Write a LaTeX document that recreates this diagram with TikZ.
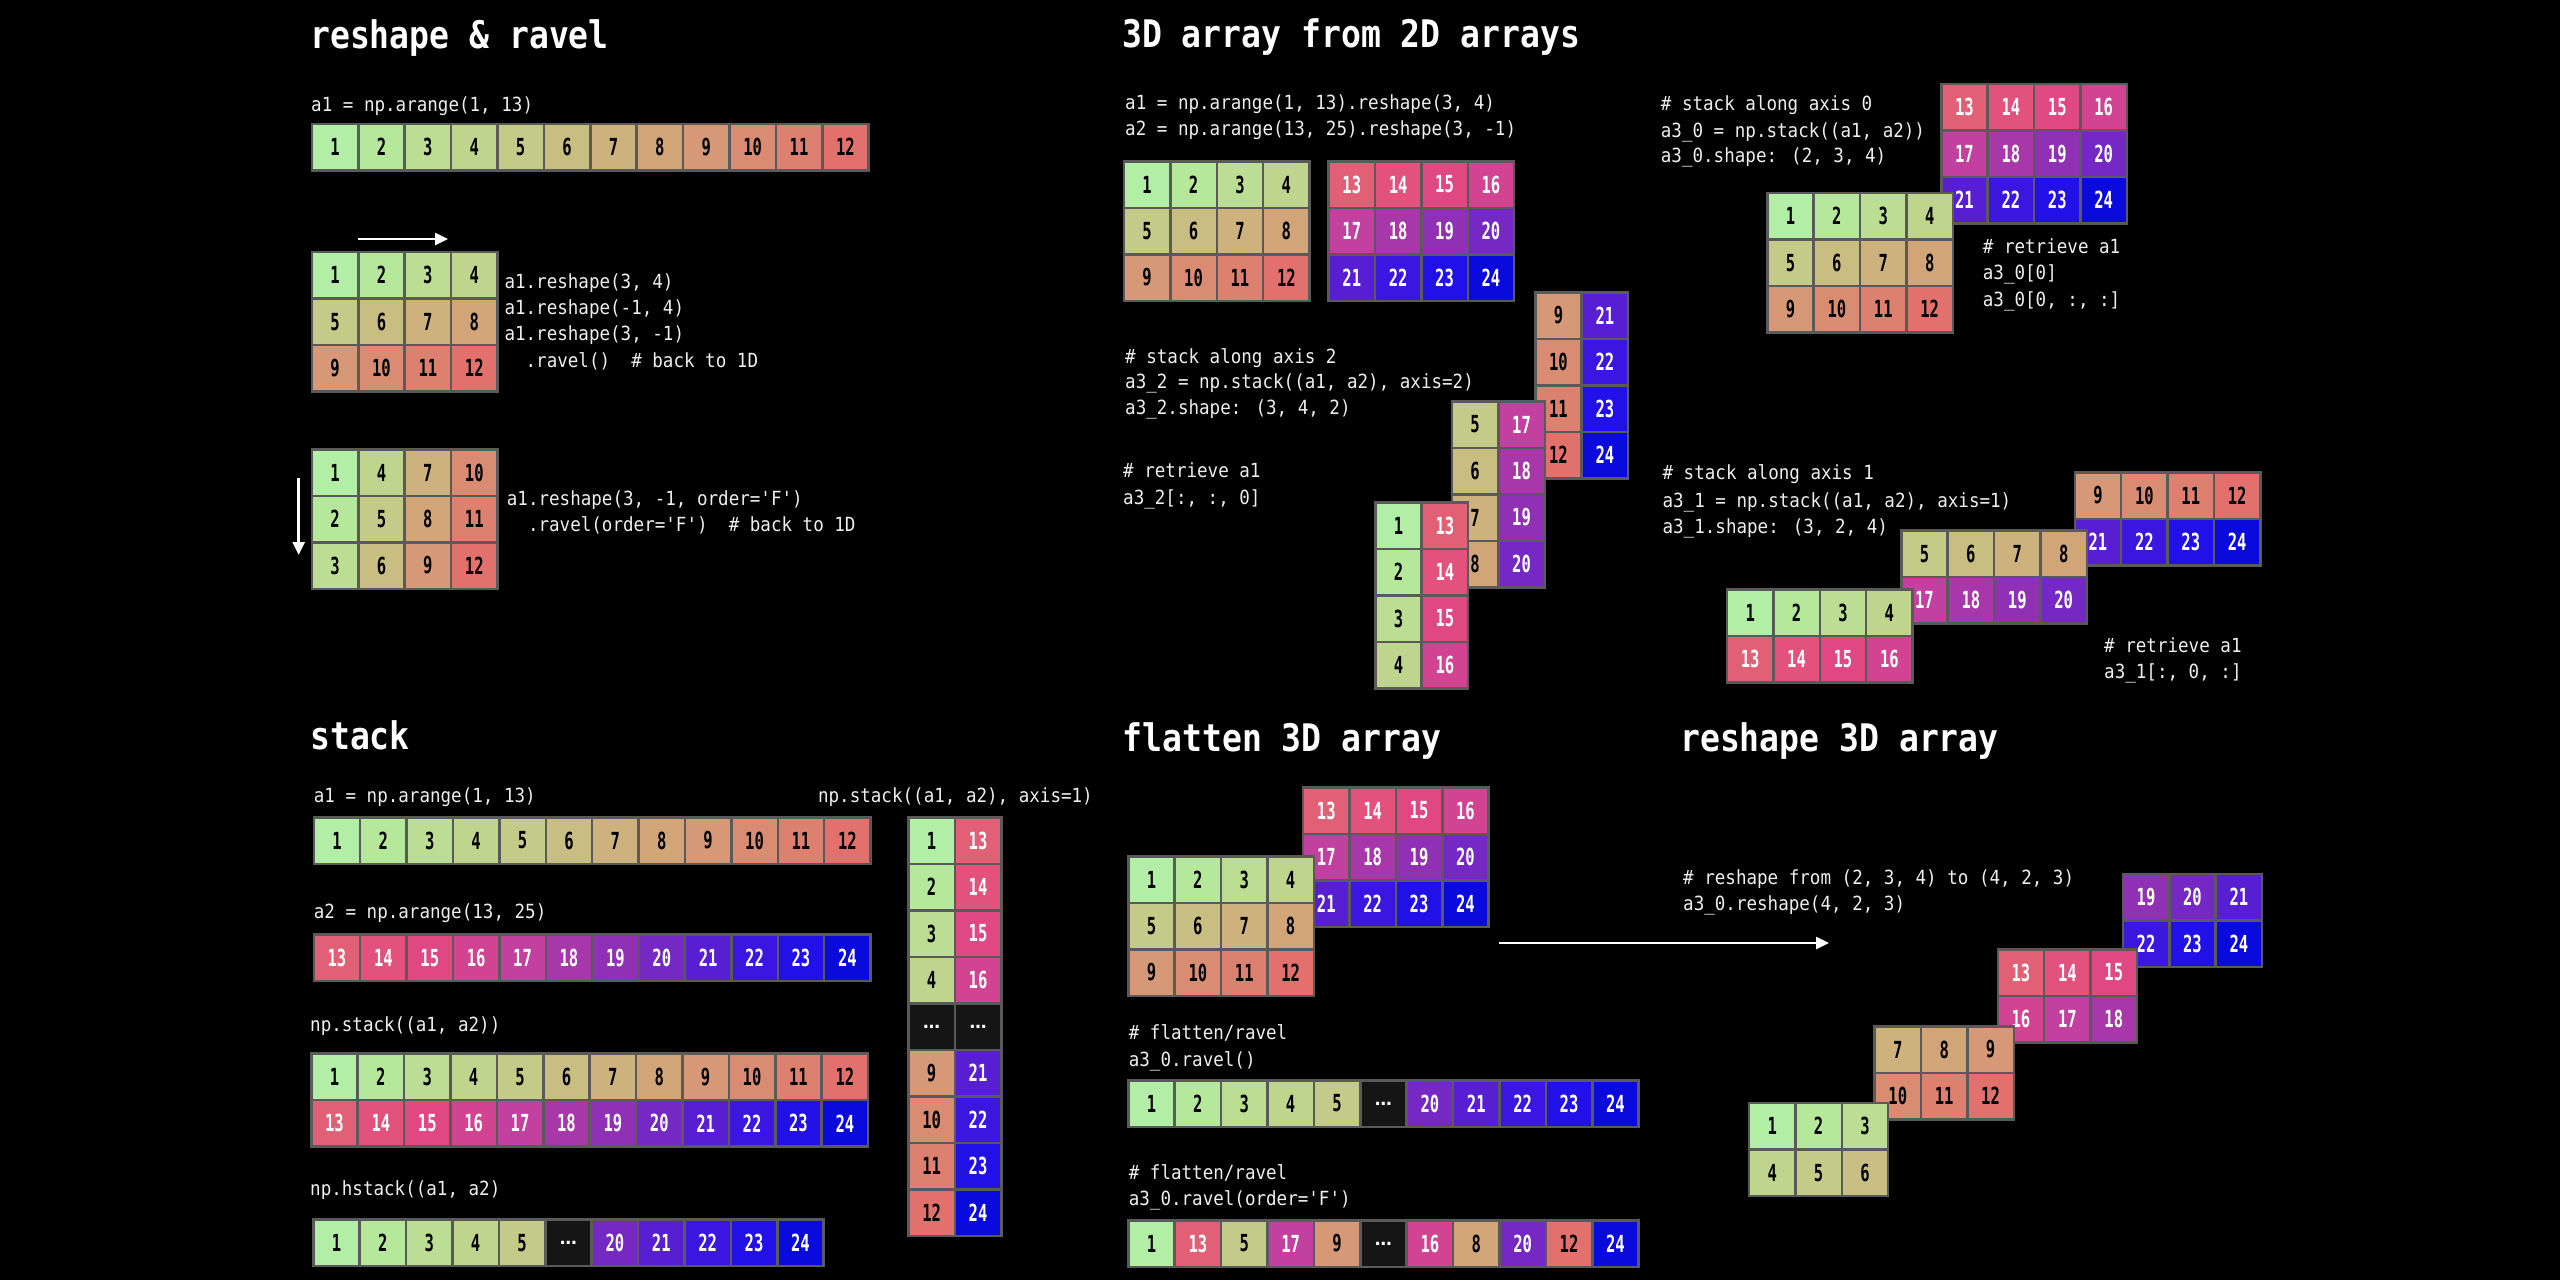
\documentclass[tikz,border=0pt]{standalone}
\usepackage{fontspec}
\usetikzlibrary{arrows.meta}
\newfontfamily\codefam[FakeStretch=0.9]{DejaVu Sans Mono}
\newfontfamily\titlefam[FakeStretch=0.87]{DejaVu Sans Mono}
\newfontfamily\numfam[FakeStretch=0.66]{DejaVu Sans Mono}
\newfontfamily\dotsfam{DejaVu Sans}
\newcommand\codefont{\codefam\fontsize{19.5}{26}\selectfont}
\newcommand\titlefont{\titlefam\bfseries\fontsize{38}{44}\selectfont}
\newcommand\numfont{\numfam\bfseries\fontsize{23.5}{26}\selectfont}
\definecolor{c0}{HTML}{151515}
\definecolor{c1}{HTML}{B2EEA5}
\definecolor{c2}{HTML}{B6E89C}
\definecolor{c3}{HTML}{BCDE94}
\definecolor{c4}{HTML}{BFD48C}
\definecolor{c5}{HTML}{C4CA87}
\definecolor{c6}{HTML}{C8BE82}
\definecolor{c7}{HTML}{CDB27D}
\definecolor{c8}{HTML}{D2A578}
\definecolor{c9}{HTML}{D69876}
\definecolor{c10}{HTML}{DA8C73}
\definecolor{c11}{HTML}{DE8070}
\definecolor{c12}{HTML}{E2706C}
\definecolor{c13}{HTML}{E26076}
\definecolor{c14}{HTML}{E2527C}
\definecolor{c15}{HTML}{E04882}
\definecolor{c16}{HTML}{D24491}
\definecolor{c17}{HTML}{C240A0}
\definecolor{c18}{HTML}{A838AA}
\definecolor{c19}{HTML}{9030B4}
\definecolor{c20}{HTML}{7628C4}
\definecolor{c21}{HTML}{581ED2}
\definecolor{c22}{HTML}{3A16E0}
\definecolor{c23}{HTML}{2210E8}
\definecolor{c24}{HTML}{0A0ADC}
\definecolor{cellborder}{HTML}{5A5A5A}
\definecolor{codecol}{HTML}{EEEEEE}
\def\cellw{46.4}
\def\cellh{46.5}
\newcommand\celltxt[1]{\ifnum#1=0 \raisebox{-4pt}{\dotsfam\bfseries\fontsize{17}{19}\selectfont …}\else#1\fi}
\tikzset{
  cell/.style={draw=cellborder, line width=2.5pt, minimum width=\cellw pt,
    minimum height=\cellh pt, inner sep=0pt, anchor=north west, font=\numfont},
  cellc/.code={\pgfkeysalso{fill=c#1}%
    \ifnum#1>12\relax\pgfkeysalso{text=white}\else
    \ifnum#1=0\relax\pgfkeysalso{text=white}\else\pgfkeysalso{text=black}\fi\fi},
  code/.style={font=\codefont, text=codecol, anchor=base west, inner sep=0pt},
  title/.style={font=\titlefont, text=white, anchor=base west, inner sep=0pt},
  arr/.style={draw=white, line width=2.5pt, -{Triangle[length=13pt,width=12pt]}}
}
\newcommand\cellrow[4]{%
  \foreach \v [count=\i] in {#4} {
    \node[cell, cellc=\v] (#1-\i) at ({#2+(\i-1)*\cellw},{#3}) {\celltxt{\v}};
  }}
\newcommand\cellgrid[4]{%
  \foreach \rl [count=\r] in {#4} {
    \foreach \v [count=\c] in \rl {
      \node[cell, cellc=\v] (#1-\r-\c) at ({#2+(\c-1)*\cellw},{#3+(\r-1)*\cellh}) {\celltxt{\v}};
    }}}
\begin{document}
\begin{tikzpicture}[x=1pt, y=-1pt]
\fill[black] (0,0) rectangle (2560,1280);
\useasboundingbox (0,0) rectangle (2560,1280);

% ---------- reshape & ravel ----------
\node[title] (ttl1) at (310,48) {reshape \& ravel};
\node[code] (s1a) at (311,111) {a1 = np.arange(1, 13)};
\cellrow{r1}{310.6}{122.7}{1,2,3,4,5,6,7,8,9,10,11,12}
\coordinate (ar1a) at (358,239);
\coordinate (ar1b) at (448,239);
\draw[arr] (ar1a) -- (ar1b);
\cellgrid{g1}{310.6}{250.7}{{1,2,3,4},{5,6,7,8},{9,10,11,12}}
\node[code] (s1b) at (504.3,288) {a1.reshape(3, 4)};
\node[code] (s1c) at (504.3,314) {a1.reshape(-1, 4)};
\node[code] (s1d) at (504.3,340) {a1.reshape(3, -1)};
\node[code] (s1e) at (504.3,367) {~~.ravel()~~\# back to 1D};
\cellgrid{g2}{310.6}{448}{{1,4,7,10},{2,5,8,11},{3,6,9,12}}
\coordinate (ar2a) at (298.7,478);
\coordinate (ar2b) at (298.7,555);
\draw[arr] (ar2a) -- (ar2b);
\node[code] (s1f) at (506.7,505) {a1.reshape(3, -1, order='F')};
\node[code] (s1g) at (506.7,531) {~~.ravel(order='F')~~\# back to 1D};

% ---------- 3D array from 2D arrays ----------
\node[title] (ttl2) at (1122,47) {3D array from 2D arrays};
\node[code] (s2a) at (1125,109) {a1 = np.arange(1, 13).reshape(3, 4)};
\node[code] (s2b) at (1125,135) {a2 = np.arange(13, 25).reshape(3, -1)};
\cellgrid{g3}{1122.7}{160}{{1,2,3,4},{5,6,7,8},{9,10,11,12}}
\cellgrid{g4}{1327.3}{160}{{13,14,15,16},{17,18,19,20},{21,22,23,24}}
% axis 2
\node[code] (s2c) at (1125,363) {\# stack along axis 2};
\node[code] (s2d) at (1125,388) {a3\_2 = np.stack((a1, a2), axis=2)};
\node[code] (s2e) at (1125,414) {a3\_2.shape: (3, 4, 2)};
\node[code] (s2f) at (1123,477) {\# retrieve a1};
\node[code] (s2g) at (1123,504) {a3\_2[:, :, 0]};
\cellgrid{g5}{1534}{291}{{9,21},{10,22},{11,23},{12,24}}
\cellgrid{g6}{1450.7}{400}{{5,17},{6,18},{7,19},{8,20}}
\cellgrid{g7}{1374}{501}{{1,13},{2,14},{3,15},{4,16}}
% axis 0
\node[code] (s2h) at (1660.7,110) {\# stack along axis 0};
\node[code] (s2i) at (1660.7,137) {a3\_0 = np.stack((a1, a2))};
\node[code] (s2j) at (1660.7,162) {a3\_0.shape: (2, 3, 4)};
\cellgrid{g8}{1940}{82.7}{{13,14,15,16},{17,18,19,20},{21,22,23,24}}
\cellgrid{g9}{1766}{191.7}{{1,2,3,4},{5,6,7,8},{9,10,11,12}}
\node[code] (s2k) at (1982.7,253) {\# retrieve a1};
\node[code] (s2l) at (1982.7,279) {a3\_0[0]};
\node[code] (s2m) at (1982.7,306) {a3\_0[0, :, :]};
% axis 1
\node[code] (s2n) at (1662.4,479) {\# stack along axis 1};
\node[code] (s2o) at (1662.4,507) {a3\_1 = np.stack((a1, a2), axis=1)};
\node[code] (s2p) at (1662.4,533) {a3\_1.shape: (3, 2, 4)};
\cellgrid{g10}{2073.5}{471}{{9,10,11,12},{21,22,23,24}}
\cellgrid{g11}{1900}{529.3}{{5,6,7,8},{17,18,19,20}}
\cellgrid{g12}{1725.7}{588.3}{{1,2,3,4},{13,14,15,16}}
\node[code] (s2q) at (2104,652) {\# retrieve a1};
\node[code] (s2r) at (2104,678) {a3\_1[:, 0, :]};

% ---------- stack ----------
\node[title] (ttl3) at (310,749) {stack};
\node[code] (s3a) at (313.7,802) {a1 = np.arange(1, 13)};
\cellrow{r2}{312.5}{816}{1,2,3,4,5,6,7,8,9,10,11,12}
\node[code] (s3b) at (313.7,918) {a2 = np.arange(13, 25)};
\cellrow{r3}{312.5}{933.3}{13,14,15,16,17,18,19,20,21,22,23,24}
\node[code] (s3c) at (310,1031) {np.stack((a1, a2))};
\cellgrid{g13}{310}{1052.3}{{1,2,3,4,5,6,7,8,9,10,11,12},{13,14,15,16,17,18,19,20,21,22,23,24}}
\node[code] (s3d) at (310,1195) {np.hstack((a1, a2)};
\cellrow{r4}{312}{1218.3}{1,2,3,4,5,0,20,21,22,23,24}
\node[code] (s3e) at (817.9,802) {np.stack((a1, a2), axis=1)};
\cellgrid{g14}{907.2}{816}{{1,13},{2,14},{3,15},{4,16},{0,0},{9,21},{10,22},{11,23},{12,24}}

% ---------- flatten 3D array ----------
\node[title] (ttl4) at (1122.5,751) {flatten 3D array};
\cellgrid{g15}{1301.8}{786}{{13,14,15,16},{17,18,19,20},{21,22,23,24}}
\cellgrid{g16}{1127}{855}{{1,2,3,4},{5,6,7,8},{9,10,11,12}}
\coordinate (ar3a) at (1499,943);
\coordinate (ar3b) at (1829,943);
\draw[arr] (ar3a) -- (ar3b);
\node[code] (s4a) at (1128.6,1039) {\# flatten/ravel};
\node[code] (s4b) at (1128.6,1066) {a3\_0.ravel()};
\cellrow{r5}{1127}{1079}{1,2,3,4,5,0,20,21,22,23,24}
\node[code] (s4c) at (1128.6,1179) {\# flatten/ravel};
\node[code] (s4d) at (1128.6,1205) {a3\_0.ravel(order='F')};
\cellrow{r6}{1127}{1219}{1,13,5,17,9,0,16,8,20,12,24}

% ---------- reshape 3D array ----------
\node[title] (ttl5) at (1680,751) {reshape 3D array};
\node[code] (s5a) at (1683,884) {\# reshape from (2, 3, 4) to (4, 2, 3)};
\node[code] (s5b) at (1683,910) {a3\_0.reshape(4, 2, 3)};
\cellgrid{g17}{2121.6}{872.7}{{19,20,21},{22,23,24}}
\cellgrid{g18}{1996.5}{948}{{13,14,15},{16,17,18}}
\cellgrid{g19}{1873.3}{1025}{{7,8,9},{10,11,12}}
\cellgrid{g20}{1747.7}{1101.7}{{1,2,3},{4,5,6}}
\end{tikzpicture}
\end{document}
